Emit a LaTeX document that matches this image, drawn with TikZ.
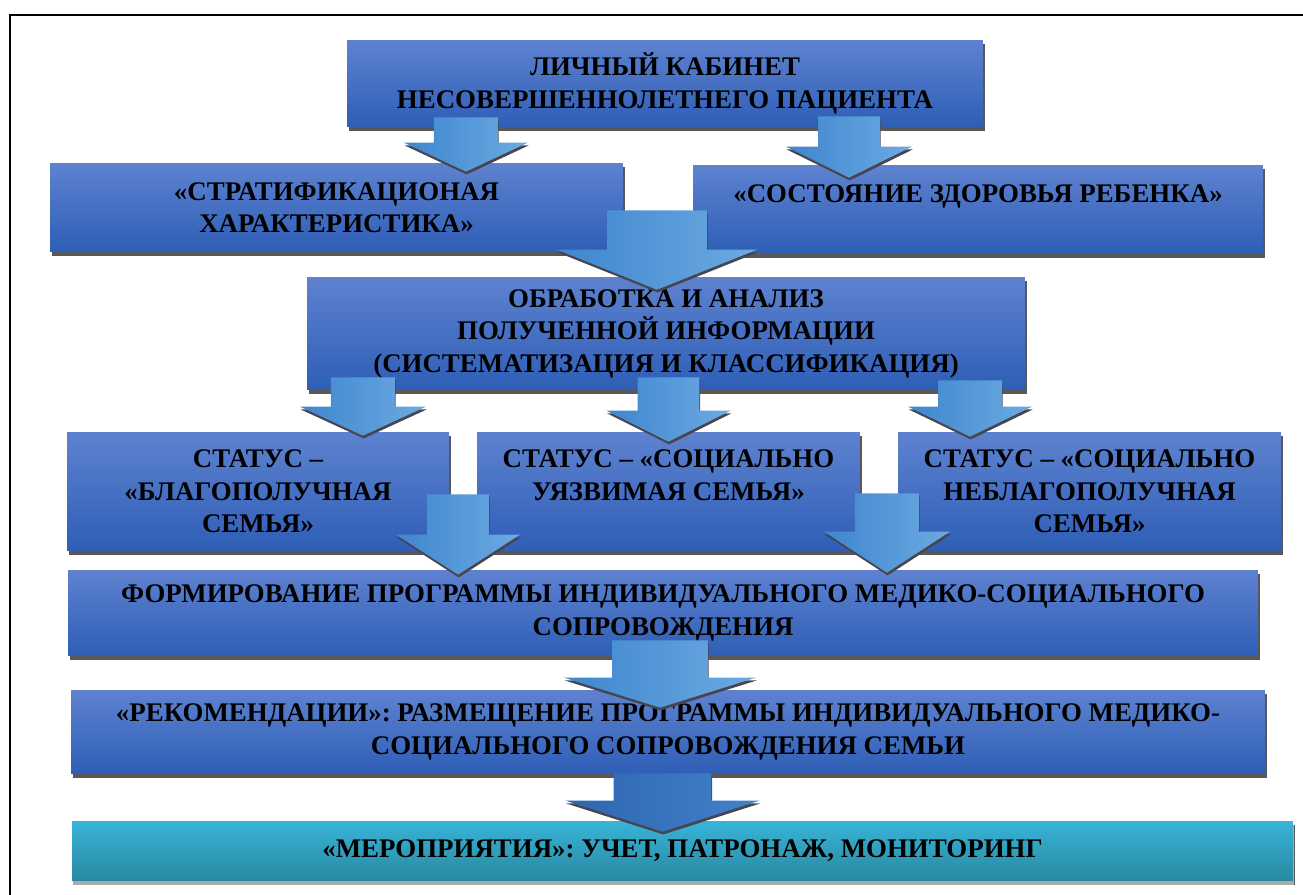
\documentclass[tikz,border=0pt]{standalone}
\usepackage{fontspec}
\setmainfont{Liberation Serif}
\definecolor{boxtop}{RGB}{94,130,208}
\definecolor{boxbot}{RGB}{46,94,182}
\definecolor{boxshade}{RGB}{88,88,88}
\definecolor{cyantop}{RGB}{56,180,216}
\definecolor{cyanbot}{RGB}{40,136,160}
\definecolor{cyanshade}{RGB}{170,170,170}
\definecolor{arrleft}{RGB}{62,134,206}
\definecolor{arrright}{RGB}{108,170,226}
\definecolor{arrdarkleft}{RGB}{46,100,176}
\definecolor{arrdarkright}{RGB}{66,130,202}
\definecolor{arrshade}{RGB}{70,70,80}
\usetikzlibrary{calc,shadows}

\begin{document}
\begin{tikzpicture}[x=0.02cm,y=-0.02cm,
  flowbox/.style={top color=boxtop,bottom color=boxbot,align=center,text=black,
    font=\fontsize{15.3}{18.5}\selectfont\bfseries,inner sep=2pt,
    drop shadow={shadow xshift=1pt,shadow yshift=-2.3pt,fill=boxshade,opacity=1}},
  flow/.style n args={6}{left color=arrleft,right color=arrright,
    preaction={fill=arrshade,transform canvas={xshift=0.4pt,yshift=-1.6pt}},
    to path={let \p1=(\tikztostart.south),\p2=(\tikztotarget.north),
      \p3=({\x2+#1*0.569pt},{\y2-#3*0.569pt}),
      \p4=({#4*0.569pt},{#5*0.569pt}),
      \p5=({#6*0.569pt},{\y1+#2*0.569pt}) in
      ({\x3-\x4},\y5) -- ({\x3+\x4},\y5) -- ({\x3+\x4},{\y3+\x5}) -- ({\x3+\y4},{\y3+\x5})
      -- (\x3,\y3) -- ({\x3-\y4},{\y3+\x5}) -- ({\x3-\x4},{\y3+\x5}) -- cycle}}
]
  \useasboundingbox (0,0) rectangle (1303,895);
  \draw[line width=1.2pt] (10,895) -- (10,15) -- (1303,15);
  % Top
  \node[flowbox,minimum width=12.72cm,minimum height=1.74cm] (cab) at (665,83.5)
    {ЛИЧНЫЙ КАБИНЕТ\\НЕСОВЕРШЕННОЛЕТНЕГО ПАЦИЕНТА};
  % Row 1
  \node[flowbox,minimum width=11.46cm,minimum height=1.78cm] (strat) at (336.5,207.5)
    {«СТРАТИФИКАЦИОНАЯ\\ХАРАКТЕРИСТИКА»};
  \node[flowbox,minimum width=11.4cm,minimum height=1.78cm] (health) at (978,209.5)
    {«СОСТОЯНИЕ ЗДОРОВЬЯ РЕБЕНКА»\\~};
  % Row 2
  \node[flowbox,minimum width=14.36cm,minimum height=2.26cm] (proc) at (666,333.5)
    {ОБРАБОТКА И АНАЛИЗ\\ПОЛУЧЕННОЙ ИНФОРМАЦИИ\\(СИСТЕМАТИЗАЦИЯ И КЛАССИФИКАЦИЯ)};
  % Row 3
  \node[flowbox,minimum width=7.64cm,minimum height=2.38cm] (famA) at (258,491.5)
    {СТАТУС –\\«БЛАГОПОЛУЧНАЯ\\СЕМЬЯ»};
  \node[flowbox,minimum width=7.66cm,minimum height=2.38cm] (famB) at (668.5,491.5)
    {СТАТУС – «СОЦИАЛЬНО\\УЯЗВИМАЯ СЕМЬЯ»\\~};
  \node[flowbox,minimum width=7.66cm,minimum height=2.38cm] (famC) at (1089.5,491.5)
    {СТАТУС – «СОЦИАЛЬНО\\НЕБЛАГОПОЛУЧНАЯ\\СЕМЬЯ»};
  % Rows 4-6
  \node[flowbox,minimum width=23.8cm,minimum height=1.72cm] (prog) at (663,613)
    {ФОРМИРОВАНИЕ ПРОГРАММЫ ИНДИВИДУАЛЬНОГО МЕДИКО-СОЦИАЛЬНОГО\\СОПРОВОЖДЕНИЯ};
  \node[flowbox,minimum width=23.88cm,minimum height=1.68cm] (rec) at (668,732)
    {«РЕКОМЕНДАЦИИ»: РАЗМЕЩЕНИЕ ПРОГРАММЫ ИНДИВИДУАЛЬНОГО МЕДИКО-\\СОЦИАЛЬНОГО СОПРОВОЖДЕНИЯ СЕМЬИ};
  \node[flowbox,top color=cyantop,bottom color=cyanbot,
    drop shadow={shadow xshift=0.6pt,shadow yshift=-2.3pt,fill=cyanshade,opacity=1},
    minimum width=24.42cm,minimum height=1.2cm] (event) at (682.5,851)
    {«МЕРОПРИЯТИЯ»: УЧЕТ, ПАТРОНАЖ, МОНИТОРИНГ};
  % Arrows
  \path[flow={129.5}{10}{9}{32}{62}{29}] (cab) to (strat);
  \path[flow={-129}{11}{13}{31}{63}{31}] (cab) to (health);
  \path[flow={-9}{42}{13}{50}{100}{40}] (strat) to (proc);
  \path[flow={105}{13}{4}{32}{63}{29}] (proc) to (famA);
  \path[flow={0}{13}{10}{31}{62}{31}] (proc) to (famB);
  \path[flow={-119.5}{10}{5}{32}{62}{30}] (proc) to (famC);
  \path[flow={-205}{57}{5}{31}{62}{40}] (famA) to (prog);
  \path[flow={224}{58}{3}{32}{63}{41}] (famC) to (prog);
  \path[flow={-8}{16}{18}{48}{96}{30}] (prog) to (rec);
  \path[flow={-20}{1}{11}{49}{97}{31},left color=arrdarkleft,right color=arrdarkright] (rec) to (event);
\end{tikzpicture}
\end{document}
